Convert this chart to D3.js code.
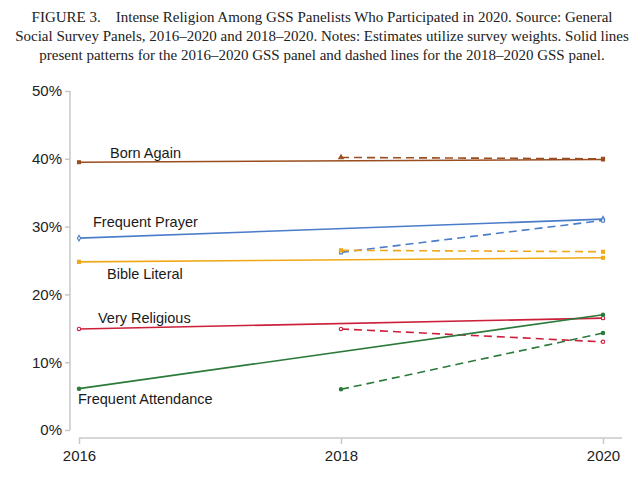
<!DOCTYPE html>
<html><head><meta charset="utf-8">
<script src="https://cdn.jsdelivr.net/npm/d3@7"></script>
<style>body{margin:0;background:#fff}</style>
</head><body>
<svg id="chart" width="644" height="500"></svg>
<script>
const titleLines = [
  "FIGURE 3.    Intense Religion Among GSS Panelists Who Participated in 2020. Source: General",
  "Social Survey Panels, 2016–2020 and 2018–2020. Notes: Estimates utilize survey weights. Solid lines",
  "present patterns for the 2016–2020 GSS panel and dashed lines for the 2018–2020 GSS panel."
];
const years = [2016, 2018, 2020];
const yTicks = [0, 10, 20, 30, 40, 50];
const seriesNames = ["Born Again", "Frequent Prayer", "Bible Literal", "Very Religious", "Frequent Attendance"];
const seriesColors = ["#9a4d1f", "#4a7cc9", "#f0a818", "#cc1f3a", "#2b7a3a"];
const solidValues = [[39.5, 39.9], [28.3, 31.1], [24.8, 25.4], [14.9, 16.5], [6.1, 17.0]];
const dashedValues = [[40.2, 40.0], [26.2, 30.9], [26.5, 26.3], [14.9, 13.0], [6.0, 14.3]];
const markerTypes = [d3.symbolSquare, d3.symbolDiamond, d3.symbolSquare, d3.symbolCircle, d3.symbolCircle];
const labelPos = [[110, 153], [93, 222], [107, 274], [98, 318], [78, 399]];

const svg = d3.select("#chart");
svg.append("g").selectAll("text").data(titleLines).join("text")
  .attr("x", 322).attr("y", (d, i) => 22 + i * 19)
  .attr("text-anchor", "middle")
  .attr("xml:space", "preserve")
  .style("white-space", "pre")
  .style("font-family", "'Liberation Serif', 'Times New Roman', serif")
  .style("font-size", "15px").style("fill", "#222").text(d => d);

const x = d3.scaleLinear().domain([2016, 2020]).range([79, 603]);
const y = d3.scaleLinear().domain([0, 50]).range([430, 91]);

// y axis
const yAxis = svg.append("g").attr("transform", "translate(70,0)")
  .call(d3.axisLeft(y).tickValues(yTicks).tickFormat(d => d + "%").tickSize(5).tickPadding(3));
yAxis.select(".domain").attr("stroke", "#c8c8c8").attr("stroke-width", 1.5).attr("d", `M0,${y(50)}V${y(0)}`);
yAxis.selectAll(".tick line").attr("stroke", "#c8c8c8").attr("stroke-width", 1.5);
yAxis.selectAll("text").style("font-family", "'Liberation Sans', Arial, sans-serif").style("font-size", "15px").style("fill", "#222");

// x axis
const xAxis = svg.append("g").attr("transform", "translate(0,438)")
  .call(d3.axisBottom(x).tickValues(years).tickFormat(d3.format("d")).tickSize(6).tickPadding(6));
xAxis.select(".domain").attr("stroke", "#c8c8c8").attr("stroke-width", 1.5).attr("d", `M${x(2016)},0H622`);
xAxis.selectAll(".tick line").attr("stroke", "#c8c8c8").attr("stroke-width", 1.5);
xAxis.selectAll("text").style("font-family", "'Liberation Sans', Arial, sans-serif").style("font-size", "15px").style("fill", "#222");

const line = d3.line().x(d => x(d[0])).y(d => y(d[1]));

seriesNames.forEach((name, i) => {
  const c = seriesColors[i];
  const solid = [[2016, solidValues[i][0]], [2020, solidValues[i][1]]];
  const dashed = [[2018, dashedValues[i][0]], [2020, dashedValues[i][1]]];
  svg.append("path").datum(solid).attr("d", line).attr("fill", "none")
    .attr("stroke", c).attr("stroke-width", 1.6);
  svg.append("path").datum(dashed).attr("d", line).attr("fill", "none")
    .attr("stroke", c).attr("stroke-width", 1.6).attr("stroke-dasharray", "8,5");
  const pts = solid.concat(dashed);
  svg.append("g").selectAll("path").data(pts).join("path")
    .attr("transform", d => `translate(${x(d[0])},${y(d[1])})`)
    .attr("d", (d, j) => d3.symbol().type(j === 2 && i === 0 ? d3.symbolTriangle : (j >= 2 && i === 1 ? d3.symbolSquare : markerTypes[i])).size(9)())
    .attr("fill", i === 1 || i === 3 ? "#fff" : c)
    .attr("stroke", c).attr("stroke-width", 1.1);
  svg.append("text").attr("x", labelPos[i][0]).attr("y", labelPos[i][1]).attr("dy", "0.35em")
    .style("font-family", "'Liberation Sans', Arial, sans-serif").style("font-size", "14.5px").style("fill", "#1a1a1a")
    .text(name);
});
</script>
</body></html>
